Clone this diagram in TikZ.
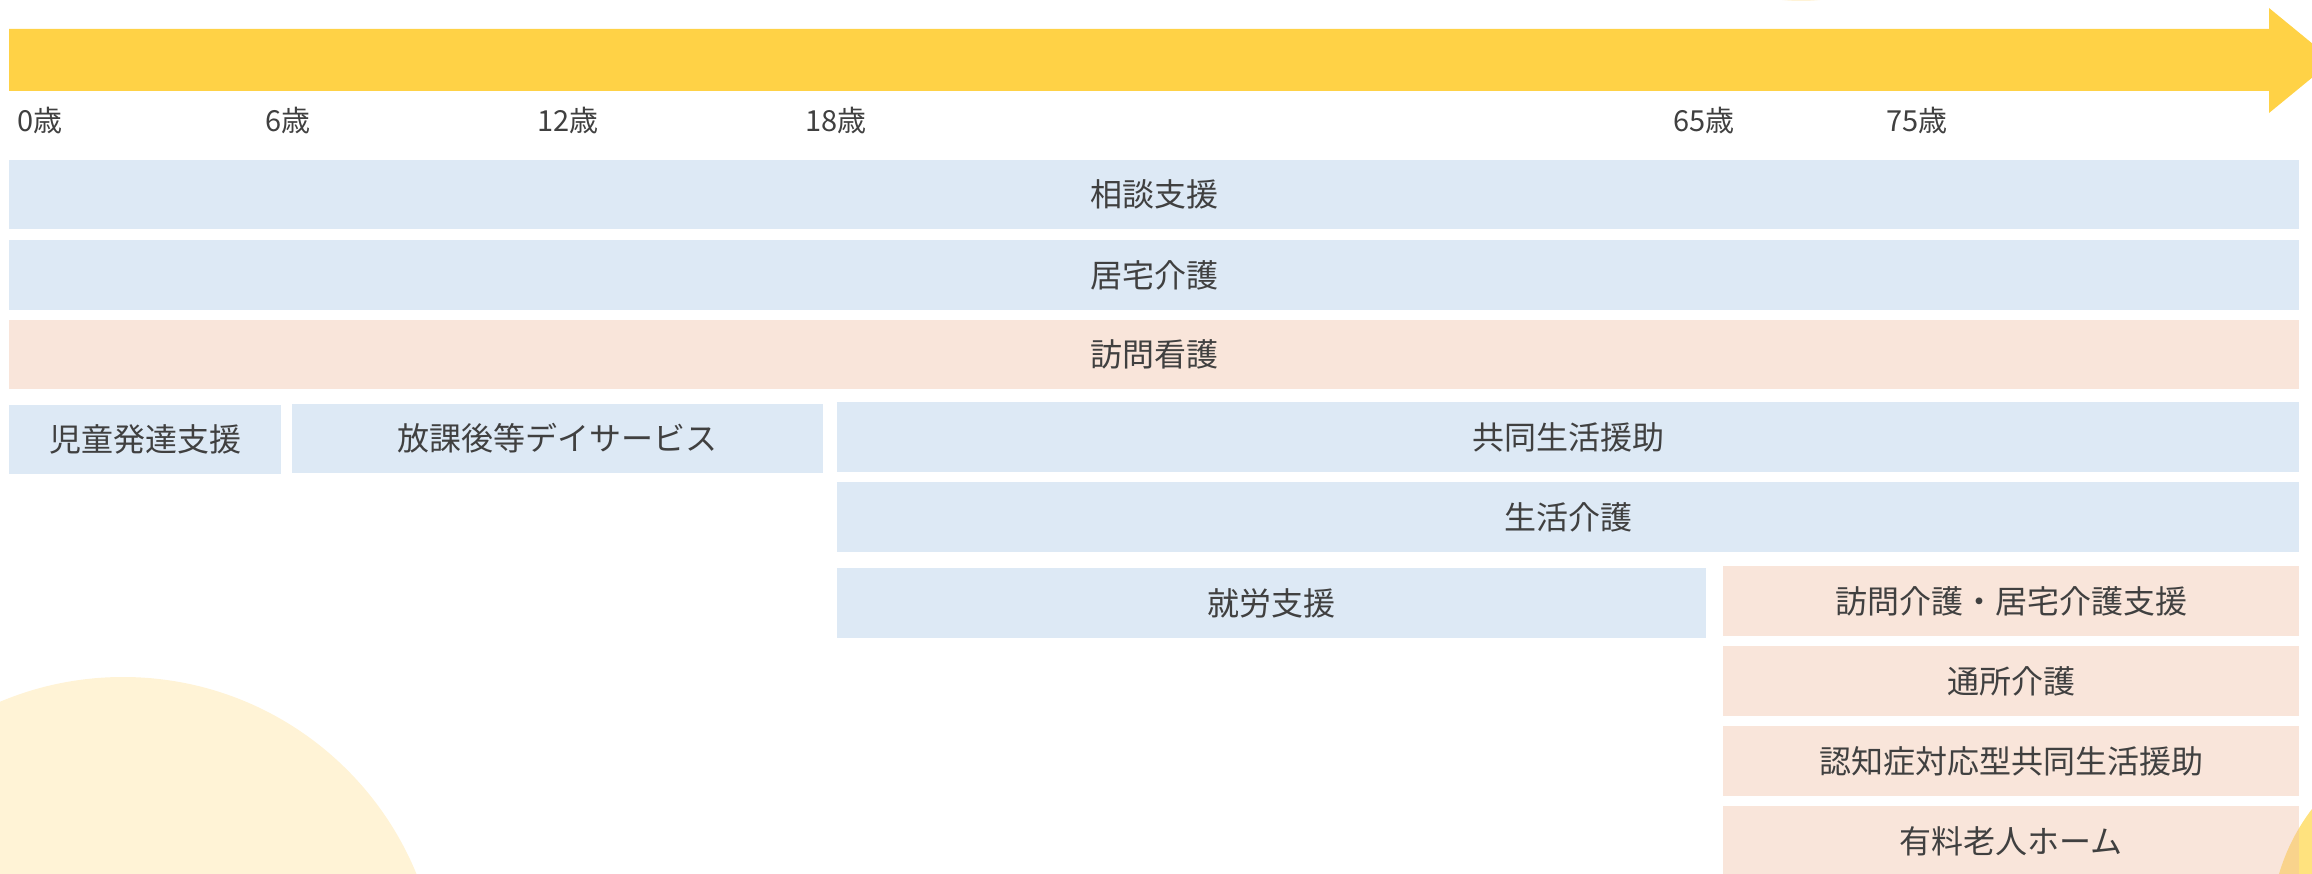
\documentclass[tikz,border=0pt]{standalone}
\usepackage{fontspec}
\setmainfont{Noto Sans CJK JP}
\definecolor{arrowY}{HTML}{FFD246}
\definecolor{boxB}{HTML}{DDE9F5}
\definecolor{txt}{HTML}{404040}
\definecolor{circL}{HTML}{FFF3D6}
\definecolor{circR}{HTML}{FFE27E}
\definecolor{peachbase}{RGB}{240,190,162}
\begin{document}
\begin{tikzpicture}[x=1pt,y=-1pt,
  bx/.style={anchor=north west, inner sep=0pt, outer sep=0pt, text=txt, font=\fontsize{32}{38}\selectfont},
  bluebox/.style={bx, fill=boxB},
  peachbox/.style={bx, fill=peachbase, fill opacity=0.4, text opacity=1},
  age/.style={anchor=west, inner sep=0pt, outer sep=0pt, text=txt, font=\fontsize{29}{34}\selectfont}]
\useasboundingbox (0,0) rectangle (2312,874);
\clip (0,0) rectangle (2312,874);
% decorative circles
\fill[circL] (123,994) circle[radius=317];
\fill[circR] (2470,930) circle[radius=199];
\fill[circL] (1801,-179) circle[radius=180];
% timeline arrow
\fill[arrowY] (9,29) -- (2269,29) -- (2269,8) -- (2333,60.5) -- (2269,113) -- (2269,91) -- (9,91) -- cycle;
% ages
\node[age] (a0) at (17,121) {0歳};
\node[age] (a6) at (265,121) {6歳};
\node[age] (a12) at (537,121) {12歳};
\node[age] (a18) at (805,121) {18歳};
\node[age] (a65) at (1673,121) {65歳};
\node[age] (a75) at (1886,121) {75歳};
% full-width rows
\node[bluebox, minimum width=2290pt, minimum height=69pt] (soudan) at (9,160) {相談支援};
\node[bluebox, minimum width=2290pt, minimum height=70pt] (kyotaku) at (9,240) {居宅介護};
\node[peachbox, minimum width=2290pt, minimum height=69pt] (houmonkango) at (9,320) {訪問看護};
% row 4
\node[bluebox, minimum width=272pt, minimum height=69pt] (jidou) at (9,405) {児童発達支援};
\node[bluebox, minimum width=531pt, minimum height=69pt] (houkago) at (292,404) {放課後等デイサービス};
\node[bluebox, minimum width=1462pt, minimum height=70pt] (kyoudou) at (837,402) {共同生活援助};
% adult rows
\node[bluebox, minimum width=1462pt, minimum height=70pt] (seikatsu) at (837,482) {生活介護};
\node[bluebox, minimum width=869pt, minimum height=70pt] (shuurou) at (837,568) {就労支援};
% elderly rows
\node[peachbox, minimum width=576pt, minimum height=70pt] (houmonkaigo) at (1723,566) {訪問介護・居宅介護支援};
\node[peachbox, minimum width=576pt, minimum height=70pt] (tsuusho) at (1723,646) {通所介護};
\node[peachbox, minimum width=576pt, minimum height=70pt] (ninchi) at (1723,726) {認知症対応型共同生活援助};
\node[peachbox, minimum width=576pt, minimum height=70pt] (yuuryou) at (1723,806) {有料老人ホーム};
\end{tikzpicture}
\end{document}
